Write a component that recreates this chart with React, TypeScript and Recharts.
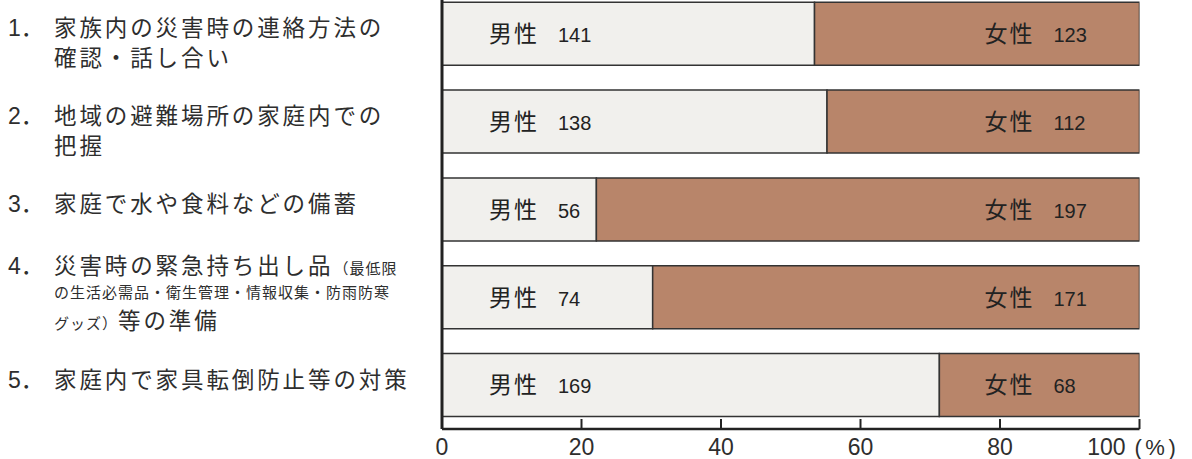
import React from 'react';
import { BarChart, Bar, XAxis, YAxis, LabelList } from 'recharts';

type Seg = { t: string; small?: boolean };

const categories = ['item1', 'item2', 'item3', 'item4', 'item5'];
const itemNumbers = ['1．', '2．', '3．', '4．', '5．'];
const itemLabels: Seg[][][] = [
  [[{ t: '家族内の災害時の連絡方法の' }], [{ t: '確認・話し合い' }]],
  [[{ t: '地域の避難場所の家庭内での' }], [{ t: '把握' }]],
  [[{ t: '家庭で水や食料などの備蓄' }]],
  [
    [{ t: '災害時の緊急持ち出し品' }, { t: '（最低限', small: true }],
    [{ t: 'の生活必需品・衛生管理・情報収集・防雨防寒', small: true }],
    [{ t: 'グッズ）', small: true }, { t: '等の準備' }],
  ],
  [[{ t: '家庭内で家具転倒防止等の対策' }]],
];
const maleCounts = [141, 138, 56, 74, 169];
const femaleCounts = [123, 112, 197, 171, 68];
const maleLabel = '男性';
const femaleLabel = '女性';
const xTicks = [0, 20, 40, 60, 80, 100];
const unitLabel = '(%)';

const rows = categories.map((name, i) => ({ name, male: maleCounts[i], female: femaleCounts[i] }));

const CJK = "'Noto Sans CJK JP', sans-serif";
const LATIN = "'Liberation Sans', 'Noto Sans CJK JP', sans-serif";
const TEXT = '#2e2e2e';

const YTick = (props: any) => {
  const { y, payload } = props;
  const i = categories.indexOf(payload.value);
  const lines = itemLabels[i] || [];
  const n = lines.length;
  const step = n >= 3 ? 27.5 : 30;
  const first = n >= 3 ? -((n - 1) / 2) * step - 4.5 : -6;
  return (
    <g>
      <text x={8} y={y + first + 8.5} fontSize={23} fontFamily={LATIN} fill={TEXT}>
        {itemNumbers[i]}
      </text>
      {lines.map((line, li) => {
        const c = y + first + li * step;
        const hasBig = line.some((s) => !s.small);
        const base = c + (hasBig ? 8.5 : 5.5);
        return (
          <text key={li} x={54} y={base} fontFamily={CJK} fill={TEXT}>
            {line.map((s, si) => (
              <tspan key={si} fontSize={s.small ? 15 : 22.5} letterSpacing={s.small ? 1 : 2.9}>
                {s.t}
              </tspan>
            ))}
          </text>
        );
      })}
    </g>
  );
};

const XTick = (props: any) => {
  const { x, y, payload } = props;
  const v = Math.round(payload.value * 100);
  const last = v === xTicks[xTicks.length - 1];
  return (
    <g>
      <line x1={x} x2={x} y1={y} y2={y - 10} stroke="#222" strokeWidth={2} />
      <text
        x={last ? x - 14 : x}
        y={y + 26}
        textAnchor={last ? 'end' : 'middle'}
        fontSize={23}
        fontFamily={LATIN}
        fill={TEXT}
      >
        {v}
      </text>
      {last && (
        <text x={x - 5} y={y + 26} fontSize={22} letterSpacing={3.5} fontFamily={LATIN} fill={TEXT}>
          {unitLabel}
        </text>
      )}
    </g>
  );
};

const getBox = (p: any) => {
  const vb = p.viewBox && p.viewBox.width !== undefined ? p.viewBox : p;
  return { x: Number(vb.x), y: Number(vb.y), width: Number(vb.width), height: Number(vb.height) };
};

const BarText = ({ x, y, name, value }: { x: number; y: number; name: string; value: number }) => (
  <text x={x} y={y} fill="#222">
    <tspan fontFamily={CJK} fontSize={23} letterSpacing={2}>
      {name}
    </tspan>
    <tspan fontFamily={LATIN} fontSize={20} dx={19}>
      {value}
    </tspan>
  </text>
);

const MaleLabel = (p: any) => {
  const { x, y, height } = getBox(p);
  return <BarText x={x + 47} y={y + height / 2 + 8.5} name={maleLabel} value={maleCounts[p.index]} />;
};

const FemaleLabel = (p: any) => {
  const { x, y, width, height } = getBox(p);
  return <BarText x={x + width - 155} y={y + height / 2 + 8.5} name={femaleLabel} value={femaleCounts[p.index]} />;
};

export default function App() {
  return (
    <div style={{ position: 'absolute', left: 0, top: -10, background: '#fff' }}>
      <BarChart
        width={1192}
        height={469}
        data={rows}
        layout="vertical"
        stackOffset="expand"
        margin={{ top: 0, right: 52.5, bottom: 0, left: 0 }}
        barCategoryGap="14%"
      >
        <XAxis
          type="number"
          domain={[0, 1]}
          ticks={xTicks.map((t) => t / 100)}
          tick={<XTick />}
          tickLine={false}
          tickSize={0}
          tickMargin={0}
          axisLine={{ stroke: '#222', strokeWidth: 2.5 }}
          height={30}
          interval={0}
          allowDataOverflow
        />
        <YAxis
          type="category"
          dataKey="name"
          width={442}
          tick={<YTick />}
          tickLine={false}
          axisLine={{ stroke: '#222', strokeWidth: 3 }}
          interval={0}
        />
        <Bar dataKey="male" stackId="a" fill="#f1f0ed" stroke="#333" strokeWidth={1.5} isAnimationActive={false}>
          <LabelList dataKey="male" content={MaleLabel} />
        </Bar>
        <Bar dataKey="female" stackId="a" fill="#b8856a" stroke="#333" strokeWidth={1.5} isAnimationActive={false}>
          <LabelList dataKey="female" content={FemaleLabel} />
        </Bar>
      </BarChart>
    </div>
  );
}
